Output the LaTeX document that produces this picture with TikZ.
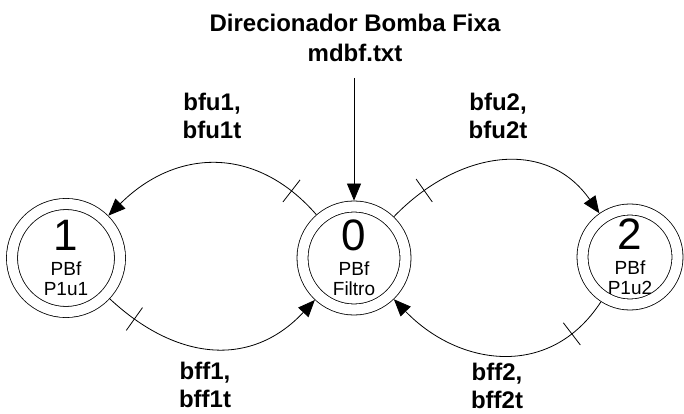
\documentclass[tikz,border=0pt]{standalone}
\usepackage{fontspec}
\setmainfont{Liberation Sans}
\usetikzlibrary{arrows.meta}

\begin{document}
\begin{tikzpicture}[
        x=1pt, y=1pt,
        line width=0.8pt,
        state/.style={circle, draw, double, double distance=10.2pt, minimum size=103pt, inner sep=0pt, outer sep=5.9pt, align=center, font=\fontsize{19}{20}\selectfont},
        title/.style={font=\fontsize{24}{30}\selectfont\bfseries, align=center},
        event/.style={font=\fontsize{24}{28}\selectfont\bfseries, align=center},
        arrow/.style={-{Triangle[length=17pt, width=14pt]}, looseness=1.15},
        tick/.style={draw, sloped, minimum width=0pt, minimum height=28pt, inner sep=0pt, outer sep=0pt}
    ]
        \useasboundingbox (0,0) rectangle (684,414);
        \node[title] (title) at (355,376) {Direcionador Bomba Fixa\\mdbf.txt};
        \node[state] (s0) at (354,156) {{\fontsize{44}{44}\selectfont 0}\\[5pt]PBf\\Filtro};
        \node[state, minimum size=108pt] (s1) at (66,156) {{\fontsize{44}{44}\selectfont 1}\\[5pt]PBf\\P1u1};
        \node[state, minimum size=95pt] (s2) at (630,157) {{\fontsize{44}{44}\selectfont 2}\\[5pt]PBf\\P1u2};
        \node[event] (bfu1) at (212,298.5) {bfu1,\\bfu1t};
        \node[event] (bfu2) at (498,298.5) {bfu2,\\bfu2t};
        \node[event] (bff1) at (205,29) {bff1,\\bff1t};
        \node[event] (bff2) at (497,28) {bff2,\\bff2t};
        \coordinate (init) at (354,336);
        \draw[arrow] (init) -- (s0);
        \draw[arrow] (s0) to[out=131, in=45] node[tick, pos=0.13] (t01) {} (s1);
        \draw[arrow] (s0) to[out=46, in=125] node[tick, pos=0.15] (t02) {} (s2);
        \draw[arrow] (s1) to[out=-43, in=-133] node[tick, pos=0.12] (t10) {} (s0);
        \draw[arrow] (s2) to[out=-123, in=-46] node[tick, pos=0.17] (t20) {} (s0);
    \end{tikzpicture}
\end{document}
